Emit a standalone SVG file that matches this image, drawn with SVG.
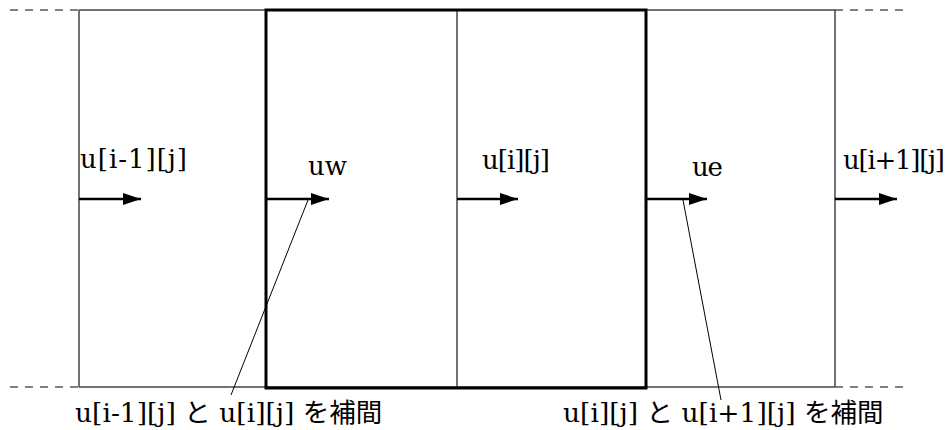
<svg xmlns="http://www.w3.org/2000/svg" width="948" height="430" viewBox="0 0 948 430">
<style>
.thin{stroke:#444;stroke-width:1.5;fill:none}
.dash{stroke:#555;stroke-width:1.5;stroke-dasharray:8,7;fill:none}
.thick{stroke:#000;stroke-width:3;fill:none}
.arr{stroke:#000;stroke-width:2.5;fill:none;marker-end:url(#ah)}
.lead{stroke:#000;stroke-width:1;fill:none}
.lbl{font-family:"DejaVu Serif",serif;font-size:26px;fill:#000}
.note{font-family:"DejaVu Serif","Noto Sans CJK JP",serif;font-size:26.5px;fill:#000}
.jp{font-family:"Noto Sans CJK JP",sans-serif}
</style>
<defs>
<marker id="ah" markerWidth="20" markerHeight="12" refX="18" refY="6" orient="auto" markerUnits="userSpaceOnUse">
<path d="M0,0 L18,6 L0,12 Z" fill="#000"/>
</marker>
</defs>
<g id="grid">
<line class="dash" x1="10" y1="10" x2="79" y2="10"/>
<line class="dash" x1="835" y1="10" x2="905" y2="10"/>
<line class="dash" x1="10" y1="387" x2="79" y2="387"/>
<line class="dash" x1="835" y1="387" x2="905" y2="387"/>
<line class="thin" x1="79" y1="10" x2="835" y2="10"/>
<line class="thin" x1="79" y1="387" x2="835" y2="387"/>
<line class="thin" x1="79" y1="10" x2="79" y2="387"/>
<line class="thin" x1="457" y1="10" x2="457" y2="387"/>
<line class="thin" x1="835" y1="10" x2="835" y2="387"/>
</g>
<g id="control-volume">
<rect class="thick" x="266" y="10" width="380" height="378"/>
</g>
<g id="connectors">
<line class="arr" x1="79" y1="199" x2="141" y2="199"/>
<line class="arr" x1="266" y1="199" x2="329" y2="199"/>
<line class="arr" x1="457" y1="199" x2="518" y2="199"/>
<line class="arr" x1="646" y1="199" x2="707" y2="199"/>
<line class="arr" x1="835" y1="199" x2="897" y2="199"/>
<line class="lead" x1="308" y1="200" x2="231" y2="395"/>
<line class="lead" x1="683" y1="200" x2="721" y2="400"/>
</g>
<g id="labels">
<text class="lbl" x="80" y="168" textLength="107" lengthAdjust="spacing">u[i-1][j]</text>
<text class="lbl" x="308" y="175" textLength="39" lengthAdjust="spacing">uw</text>
<text class="lbl" x="482" y="169" textLength="68" lengthAdjust="spacing">u[i][j]</text>
<text class="lbl" x="692" y="176" textLength="31" lengthAdjust="spacing">ue</text>
<text class="lbl" x="843" y="169" textLength="102" lengthAdjust="spacing">u[i+1][j]</text>
<text class="note" x="75" y="422">u[i-1][j] <tspan class="jp">と</tspan> u[i][j] <tspan class="jp">を補間</tspan></text>
<text class="note" x="563" y="422">u[i][j] <tspan class="jp">と</tspan> u[i+1][j] <tspan class="jp">を補間</tspan></text>
</g>
</svg>
